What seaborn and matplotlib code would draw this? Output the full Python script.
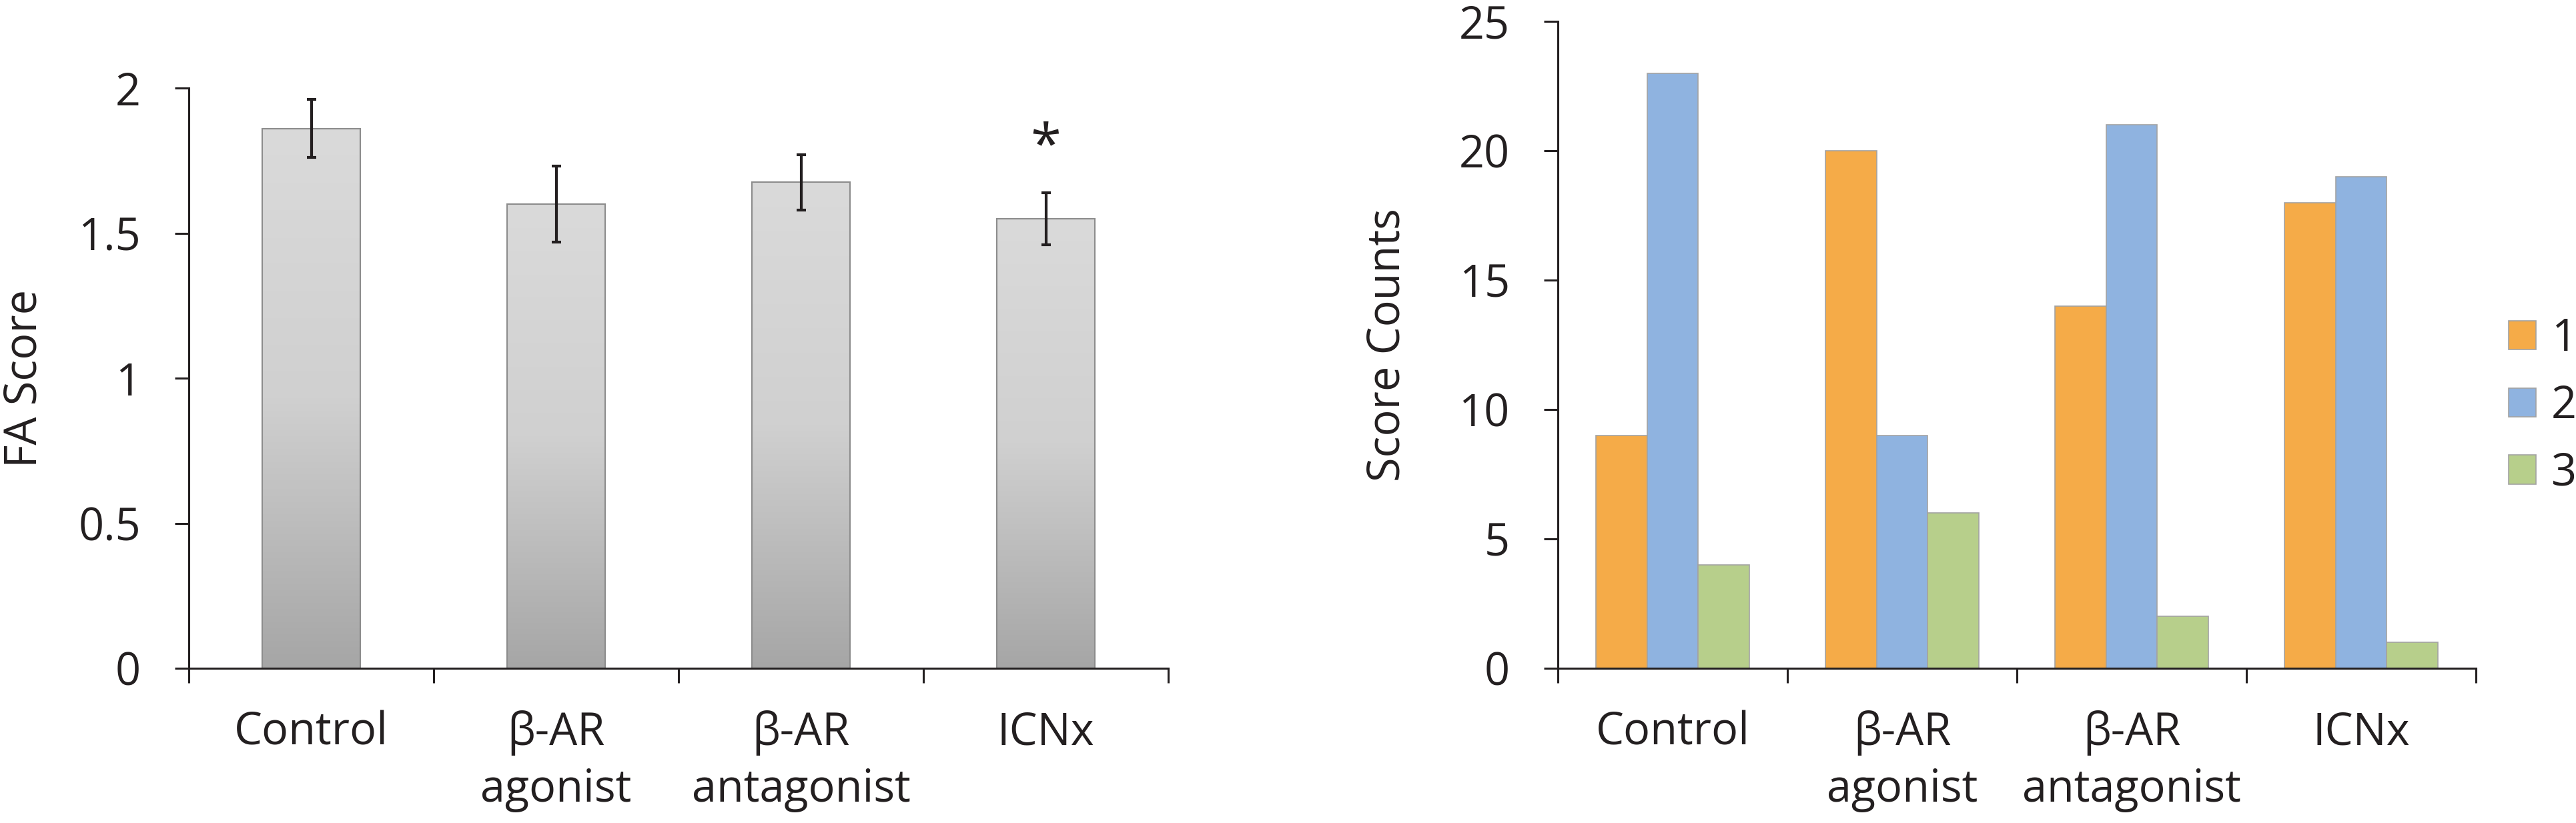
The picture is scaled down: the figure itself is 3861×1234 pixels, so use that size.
import numpy as np
import pandas as pd
import matplotlib
matplotlib.use('Agg')
import matplotlib.pyplot as plt
import seaborn as sns
from matplotlib.colors import LinearSegmentedColormap

# dados
grupos = ['Control', 'β-AR\nagonist', 'β-AR\nantagonist', 'ICNx']
fa_score = [1.86, 1.60, 1.675, 1.55]
fa_erro = [0.10, 0.13, 0.095, 0.09]
fa_sig = ['', '', '', '*']

niveis = ['1', '2', '3']
contagem_1 = [9, 20, 14, 18]
contagem_2 = [23, 9, 21, 19]
contagem_3 = [4, 6, 2, 1]

sns.set_style('ticks')
tinta = '#231f20'
plt.rcParams['font.family'] = ['Open Sans', 'DejaVu Sans']
plt.rcParams['text.color'] = tinta
plt.rcParams['axes.labelcolor'] = tinta
plt.rcParams['xtick.color'] = tinta
plt.rcParams['ytick.color'] = tinta
fs = 48

fig = plt.figure(figsize=(38.62, 12.34), dpi=100)
ax1 = fig.add_axes([0.0733, 0.188, 0.3801, 0.705])
ax2 = fig.add_axes([0.6046, 0.188, 0.3563, 0.786])

# Grafico 1: FA Score com gradiente
df_fa = pd.DataFrame({'grupo': grupos, 'FA': fa_score})
sns.barplot(data=df_fa, x='grupo', y='FA', ax=ax1, color='#cccccc', saturation=1,
            width=0.4, edgecolor='#8c8c8c', linewidth=1.5, errorbar=None)

cmap_cinza = LinearSegmentedColormap.from_list('cinza', ['#a6a6a6', '#d0d0d0', '#dadada'])
grad = np.linspace(0, 1, 256).reshape(-1, 1)
for p in ax1.patches:
    x, y = p.get_x(), p.get_y()
    w, h = p.get_width(), p.get_height()
    im = ax1.imshow(grad, extent=[x, x + w, y, y + h], origin='lower', aspect='auto',
                    cmap=cmap_cinza, zorder=p.get_zorder() - 0.1)
    im.set_clip_path(p)
    p.set_facecolor('none')

ax1.errorbar(range(len(grupos)), fa_score, yerr=fa_erro, fmt='none', ecolor=tinta,
             elinewidth=3, capsize=5, capthick=3, zorder=5)
for i, s in enumerate(fa_sig):
    if s:
        ax1.text(i, fa_score[i] + fa_erro[i] + 0.15, s, ha='center', va='center', fontsize=60)

ax1.set_xlim(-0.5, len(grupos) - 0.5)
ax1.set_ylim(0, 2)
ax1.set_yticks([0, 0.5, 1, 1.5, 2])
ax1.set_yticklabels(['0', '0.5', '1', '1.5', '2'])
ax1.set_ylabel('FA Score', fontsize=fs)
ax1.yaxis.label.set_verticalalignment('center')
ax1.yaxis.set_label_coords(-0.1676, 0.5)

# Grafico 2: contagem por score
df_cont = pd.DataFrame({
    'grupo': grupos * 3,
    'score': [niveis[0]] * 4 + [niveis[1]] * 4 + [niveis[2]] * 4,
    'n': contagem_1 + contagem_2 + contagem_3,
})
sns.barplot(data=df_cont, x='grupo', y='n', hue='score', hue_order=niveis,
            palette=['#f5ab48', '#8fb3e0', '#b7cf8b'], saturation=1, width=0.67,
            edgecolor='#a3a3a3', linewidth=1.2, errorbar=None, ax=ax2)
ax2.set_xlim(-0.5, len(grupos) - 0.5)
ax2.set_ylim(0, 25)
ax2.set_yticks([0, 5, 10, 15, 20, 25])
ax2.set_ylabel('Score Counts', fontsize=fs)
ax2.yaxis.label.set_verticalalignment('center')
ax2.yaxis.set_label_coords(-0.1853, 0.5)

handles, labels = ax2.get_legend_handles_labels()
ax2.legend(handles, labels, loc='center left', bbox_to_anchor=(0.9736, 0.5065),
           bbox_transform=fig.transFigure, frameon=False, fontsize=fs,
           handlelength=0.62, handleheight=0.62, handletextpad=0.34,
           labelspacing=0.5, borderpad=0, borderaxespad=0)

for ax in (ax1, ax2):
    sns.despine(ax=ax)
    for lado in ('left', 'bottom'):
        ax.spines[lado].set_linewidth(2.2)
        ax.spines[lado].set_color(tinta)
    ax.set_xlabel('')
    ax.set_xticks(range(len(grupos)))
    ax.set_xticklabels(grupos, linespacing=1.35)
    ax.set_xticks(np.arange(-0.5, len(grupos)), minor=True)
    ax.tick_params(axis='x', which='major', length=0, pad=45, labelsize=fs)
    ax.tick_params(axis='x', which='minor', length=16, width=2.2, direction='out', color=tinta)
    ax.tick_params(axis='y', length=15, width=2.2, direction='out', pad=37, labelsize=fs, color=tinta)

fig.savefig('out.png', dpi=100)
